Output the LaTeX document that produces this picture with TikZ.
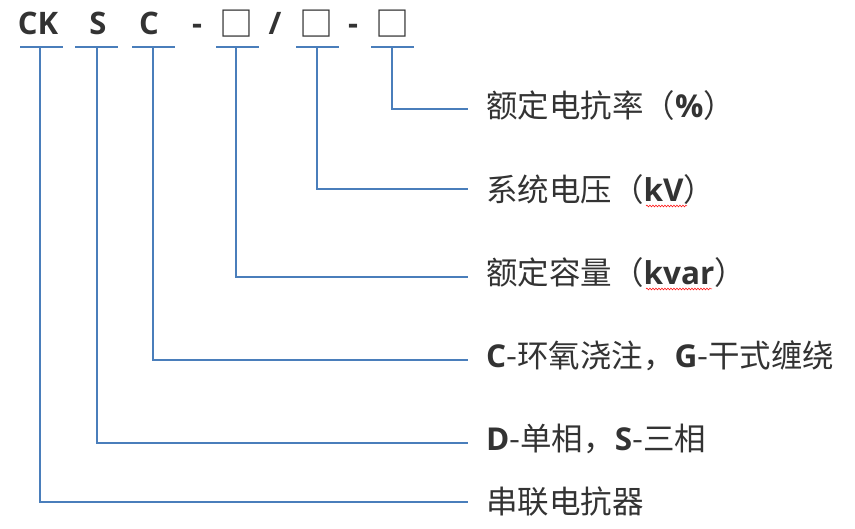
\documentclass[tikz,border=0pt]{standalone}
\usepackage{fontspec}
\setmainfont{Open Sans}
\newfontfamily\cjk{Noto Sans CJK SC}
\newfontfamily\lat{Open Sans}
\usetikzlibrary{decorations.pathmorphing}
\definecolor{lineblue}{RGB}{74,126,187}
\definecolor{txt}{RGB}{51,51,51}
\newcommand{\B}[1]{{\lat\bfseries #1}}
\begin{document}
\begin{tikzpicture}[x=1pt,y=-1pt,
  code/.style={inner sep=0pt,anchor=base,text=txt,font=\lat\bfseries\fontsize{31}{31}\selectfont},
  boxch/.style={inner sep=0pt,anchor=base,text=txt,font=\cjk\fontsize{34}{34}\selectfont},
  lbl/.style={inner sep=0pt,anchor=base west,text=txt,font=\cjk\fontsize{31.5}{31.5}\selectfont},
  conn/.style={draw=lineblue,line width=1.9pt},
  wavy/.style={draw=red,line width=0.5pt,decorate,decoration={snake,amplitude=0.9pt,segment length=3pt}}]
\useasboundingbox (0,0) rectangle (855,529);
% code letters
\node[code] (ck) at (38,35) {CK};
\node[code] (s)  at (98,35) {S};
\node[code] (c)  at (149,35) {C};
\node[code] (h1) at (197,35) {-};
\node[boxch] (b1) at (236,37) {□};
\node[code] (sl) at (275,35) {/};
\node[boxch] (b2) at (316,37) {□};
\node[code] (h2) at (353,35) {-};
\node[boxch] (b3) at (392,37) {□};
% labels
\node[lbl] (l1) at (486,118) {额定电抗率（\B{\%}）};
\node[lbl] (l2) at (486,202) {系统电压（\B{kV}）};
\node[lbl] (l3) at (486,285) {额定容量（\B{kvar}）};
\node[lbl] (l4) at (486,368) {\B{C}-环氧浇注，\B{G}-干式缠绕};
\node[lbl] (l5) at (486,451) {\B{D}-单相，\B{S}-三相};
\node[lbl] (l6) at (486,513) {串联电抗器};
% underlines
\draw[conn] (20,47.3) -- (62.7,47.3);
\draw[conn] (75,47.3) -- (117.7,47.3);
\draw[conn] (132,47.3) -- (174.7,47.3);
\draw[conn] (216,47.3) -- (258.7,47.3);
\draw[conn] (296,47.3) -- (338.7,47.3);
\draw[conn] (371,47.3) -- (413.7,47.3);
% connectors
\coordinate (e1) at (467.5,109.3);
\coordinate (e2) at (467.5,189.3);
\coordinate (e3) at (467.5,276.7);
\coordinate (e4) at (467.5,359.7);
\coordinate (e5) at (467.5,442.7);
\coordinate (e6) at (467.5,501.7);
\draw[conn] (391.7,47.3) |- (e1);
\draw[conn] (316.7,47.3) |- (e2);
\draw[conn] (236,47.3) |- (e3);
\draw[conn] (152.7,47.3) |- (e4);
\draw[conn] (96.7,47.3) |- (e5);
\draw[conn] (40,47.3) |- (e6);
% spell-check wavy marks
\draw[wavy] (646,206) -- (687,206);
\draw[wavy] (646,289) -- (712,289);
\end{tikzpicture}
\end{document}
